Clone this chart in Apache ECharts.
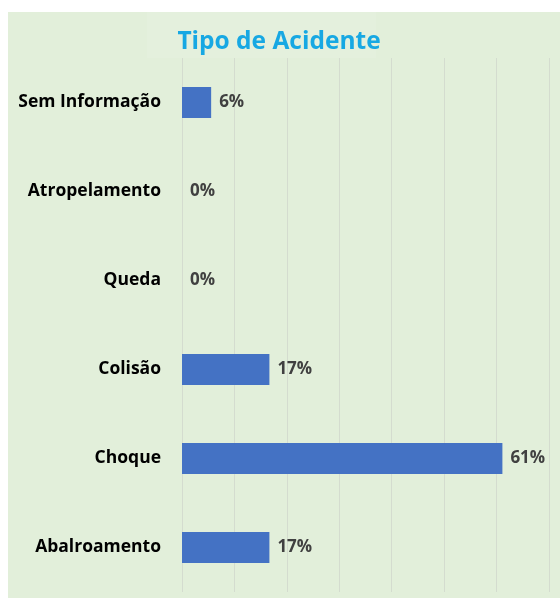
<!DOCTYPE html>
<html>
<head>
<meta charset="utf-8">
<script src="https://cdn.jsdelivr.net/npm/echarts@6/dist/echarts.min.js"></script>
<style>
html,body{margin:0;padding:0;background:#ffffff;}
#chart{width:560px;height:598px;}
</style>
</head>
<body>
<div id="chart"></div>
<script>
const categories = ["Abalroamento", "Choque", "Colisão", "Queda", "Atropelamento", "Sem Informação"];
const values = [16.67, 61.11, 16.67, 0, 0, 5.56];
const titleText = "Tipo de Acidente";

const chart = echarts.init(document.getElementById('chart'), null, {renderer: 'canvas'});
chart.setOption({
  backgroundColor: '#ffffff',
  animation: false,
  graphic: [
    {type: 'rect', shape: {x: 8, y: 12, width: 552, height: 586}, style: {fill: '#e2efda'}, z: -10},
    {type: 'rect', shape: {x: 147, y: 12, width: 229, height: 46}, style: {fill: '#e4f0dd'}, z: -9}
  ],
  title: {
    text: titleText,
    left: 274, top: 25, textAlign: 'center',
    textStyle: {color: '#17a8e3', fontSize: 24.5, fontWeight: 'bold', fontFamily: 'Open Sans'}
  },
  grid: {left: 182, right: 11, top: 58, bottom: 6, containLabel: false},
  xAxis: {
    type: 'value', min: 0, max: 70, interval: 10,
    axisLabel: {show: false}, axisLine: {show: false}, axisTick: {show: false},
    splitLine: {show: true, lineStyle: {color: '#d4dccf', width: 1}}
  },
  yAxis: {
    type: 'category', data: categories,
    axisLine: {show: false}, axisTick: {show: false},
    axisLabel: {color: '#000000', fontSize: 17.5, fontWeight: 'bold', fontFamily: 'Open Sans', margin: 21, padding: [3, 0, 0, 0]}
  },
  series: [{
    type: 'bar', data: values, barWidth: 31,
    itemStyle: {color: '#4472c4'},
    label: {
      show: true, position: 'right', distance: 8,
      color: '#404040', fontSize: 17, fontWeight: 'bold', fontFamily: 'Open Sans',
      padding: [3, 0, 0, 0],
      formatter: p => Math.round(p.value) + '%'
    }
  }]
});
</script>
</body>
</html>
